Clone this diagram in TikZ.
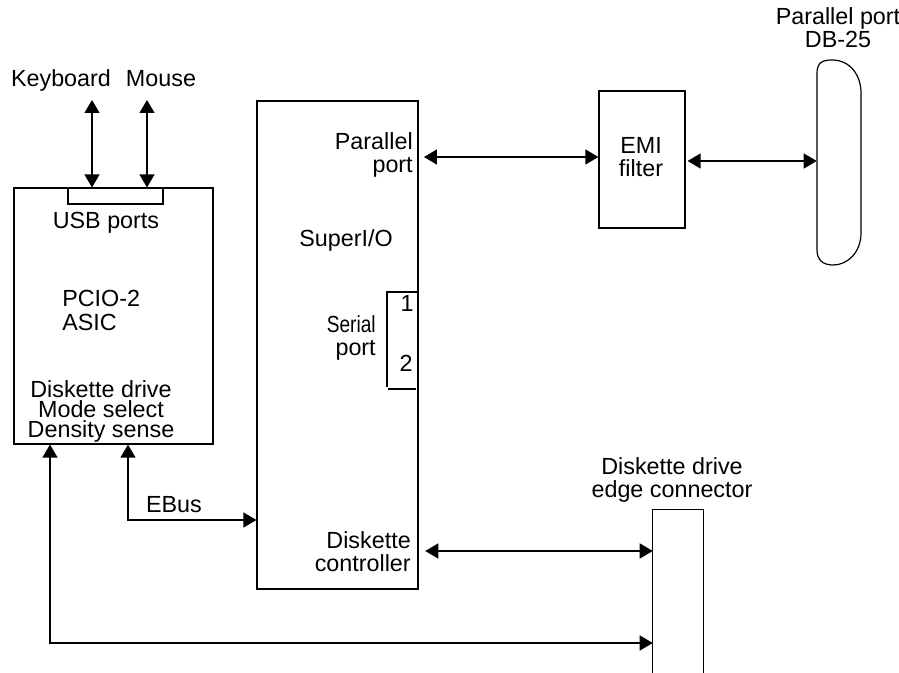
\documentclass[tikz,border=0pt]{standalone}
\usepackage{fontspec}
\setmainfont{Liberation Sans}
\usepackage{graphicx}
\usetikzlibrary{arrows.meta}
\usetikzlibrary{positioning}

\newcommand{\pxu}{0.75pt}

\tikzset{
  blk/.style={draw, line width=0.9pt, inner sep=0pt},
  lbl/.style={inner sep=0pt, anchor=base, font=\fontsize{17.5}{17.25}\selectfont},
  biarrow/.style={{Triangle[length=9.75pt,width=11.25pt]}-{Triangle[length=9.75pt,width=11.25pt]}, line width=1pt},
}

\begin{document}
\begin{tikzpicture}[x=\pxu, y=-\pxu]
\useasboundingbox (0,0) rectangle (899,673);

%---------------------------------------
% PCIO-2 ASIC
%---------------------------------------
\node[blk, minimum width=199*\pxu, minimum height=256*\pxu] (pcio) at (113.5,316) {};
\node[blk, minimum width=95*\pxu, minimum height=16*\pxu] (usb) at (115.5,196) {};
\node[lbl] (kbd) at (61,87) {Keyboard};
\node[lbl] (mouse) at (161,87) {Mouse};
\node[lbl] (usbtxt) at (106,229) {USB ports};
\node[lbl, align=left, anchor=base west] (asic) at (62,330) {PCIO-2\\ASIC};
\node[lbl, align=center, font=\fontsize{17.5}{14.8}\selectfont] (ddrv) at (101,437)
  {Diskette drive\\Mode select\\Density sense};

%---------------------------------------
% SuperI/O
%---------------------------------------
\node[blk, minimum width=161*\pxu, minimum height=488*\pxu] (sio) at (337.5,345) {};
\node[lbl, align=right, anchor=base east] (ppt) at (413,173) {Parallel\\port};
\node[lbl] (siotxt) at (346,247) {SuperI/O};
\node[lbl, align=right, anchor=base east] (ser) at (376,356) {\scalebox{0.82}[1]{Serial}\\port};
\node[lbl] (one) at (407,312) {1};
\node[lbl] (two) at (406,372) {2};
\node[lbl, align=right, anchor=base east] (dctl) at (411,571) {Diskette\\controller};

% serial port bracket
\draw[line width=0.9pt] (418,292) -- (387,292) -- (387,387);
\draw[line width=0.9pt] (388,389) -- (416,389);

%---------------------------------------
% EMI filter and DB-25
%---------------------------------------
\node[blk, minimum width=86*\pxu, minimum height=137*\pxu] (emi) at (642,159.5) {};
\node[lbl, align=center] (emitxt) at (641,177) {EMI\\filter};

\node[inner sep=0pt, minimum width=44*\pxu, minimum height=205*\pxu] (db) at (839,162.5) {};
\draw[line width=0.9pt] (817,73) .. controls (817,63) and (822,60) .. (832,60)
  .. controls (850,60) and (861,75) .. (861,93) -- (861,233)
  .. controls (861,252) and (848,265) .. (833,265)
  .. controls (823,265) and (817,260) .. (817,250) -- cycle;
\node[lbl, align=center] (dbtxt) at (838,48) {Parallel port\\DB-25};

%---------------------------------------
% Diskette drive edge connector
%---------------------------------------
\node[inner sep=0pt, minimum width=50*\pxu, minimum height=163*\pxu] (edge) at (678,591.5) {};
\draw[line width=0.9pt] (edge.south west) -- (edge.north west) -- (edge.north east) -- (edge.south east);
\node[lbl, align=center] (edgetxt) at (672,497) {Diskette drive\\edge connector};

\node[lbl] (ebus) at (174,512) {EBus};

%---------------------------------------
% Connections
%---------------------------------------
\coordinate (kbdtip) at (92,100);
\coordinate (mousetip) at (147,100);
\coordinate (ebusbend) at (128,520);
\coordinate (fdbend) at (50,643);
\coordinate (pptlevel) at (0,157);
\coordinate (dblevel) at (0,161);
\coordinate (dctllevel) at (0,551);

\draw[biarrow] (kbdtip) -- (kbdtip |- pcio.north);
\draw[biarrow] (mousetip) -- (mousetip |- pcio.north);
\draw[biarrow] (pcio.south -| ebusbend) -- (ebusbend) -- (ebusbend -| sio.west);
\draw[biarrow] (pcio.south -| fdbend) -- (fdbend) -- (fdbend -| edge.west);
\draw[biarrow, shorten <=4pt] (pptlevel -| sio.east) -- (pptlevel -| emi.west);
\draw[biarrow, shorten <=1.5pt] (dblevel -| emi.east) -- (dblevel -| db.west);
\draw[biarrow, shorten <=5pt] (dctllevel -| sio.east) -- (dctllevel -| edge.west);

\end{tikzpicture}
\end{document}
